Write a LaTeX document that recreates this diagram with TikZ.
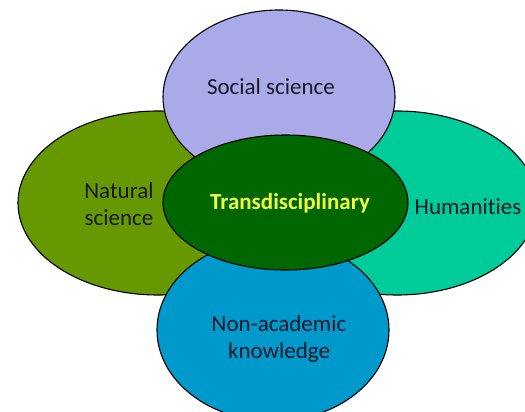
\documentclass[tikz,border=0pt]{standalone}
\usepackage{fontspec}
\setmainfont{Carlito}[Ligatures={NoCommon}]
\usetikzlibrary{shapes.geometric}
\definecolor{socc}{RGB}{170,170,232}
\definecolor{natc}{RGB}{102,153,0}
\definecolor{humc}{RGB}{0,204,153}
\definecolor{nonc}{RGB}{0,153,204}
\definecolor{trac}{RGB}{0,102,0}
\definecolor{trat}{RGB}{240,255,70}
\definecolor{txtc}{RGB}{24,24,40}
\tikzset{
  blob/.style={ellipse, draw=black, line width=1.1pt, inner sep=0pt},
  lab/.style={font=\fontsize{23}{27}\selectfont, text=txtc, align=center, inner sep=0pt},
}
\begin{document}
\begin{tikzpicture}[x=1pt,y=-1pt]
\useasboundingbox (0,0) rectangle (525,412);
\clip (0,0) rectangle (525,412);
\fill[white] (0,0) rectangle (525,412);
\node[blob, fill=natc, minimum width=280pt, minimum height=184pt] (nat) at (158,203) {};
\node[blob, fill=humc, minimum width=280pt, minimum height=184pt] (hum) at (397,203) {};
\node[blob, fill=socc, minimum width=232pt, minimum height=174pt] (soc) at (279,97) {};
\node[blob, fill=nonc, minimum width=232pt, minimum height=182pt] (non) at (273,330) {};
\node[blob, fill=trac, minimum width=245pt, minimum height=135pt] (tra) at (285.5,202.5) {};
\node[lab] (socl) at (271,87) {Social science};
\node[lab] (natl) at (119,204) {Natural\\science};
\node[lab] (huml) at (468,207) {Humanities};
\node[lab] (nonl) at (279,339) {Non-academic\\knowledge};
\node[lab, text=trat, font=\fontsize{23}{27}\selectfont\bfseries] (tral) at (290,203) {Transdisciplinary};
\end{tikzpicture}
\end{document}
